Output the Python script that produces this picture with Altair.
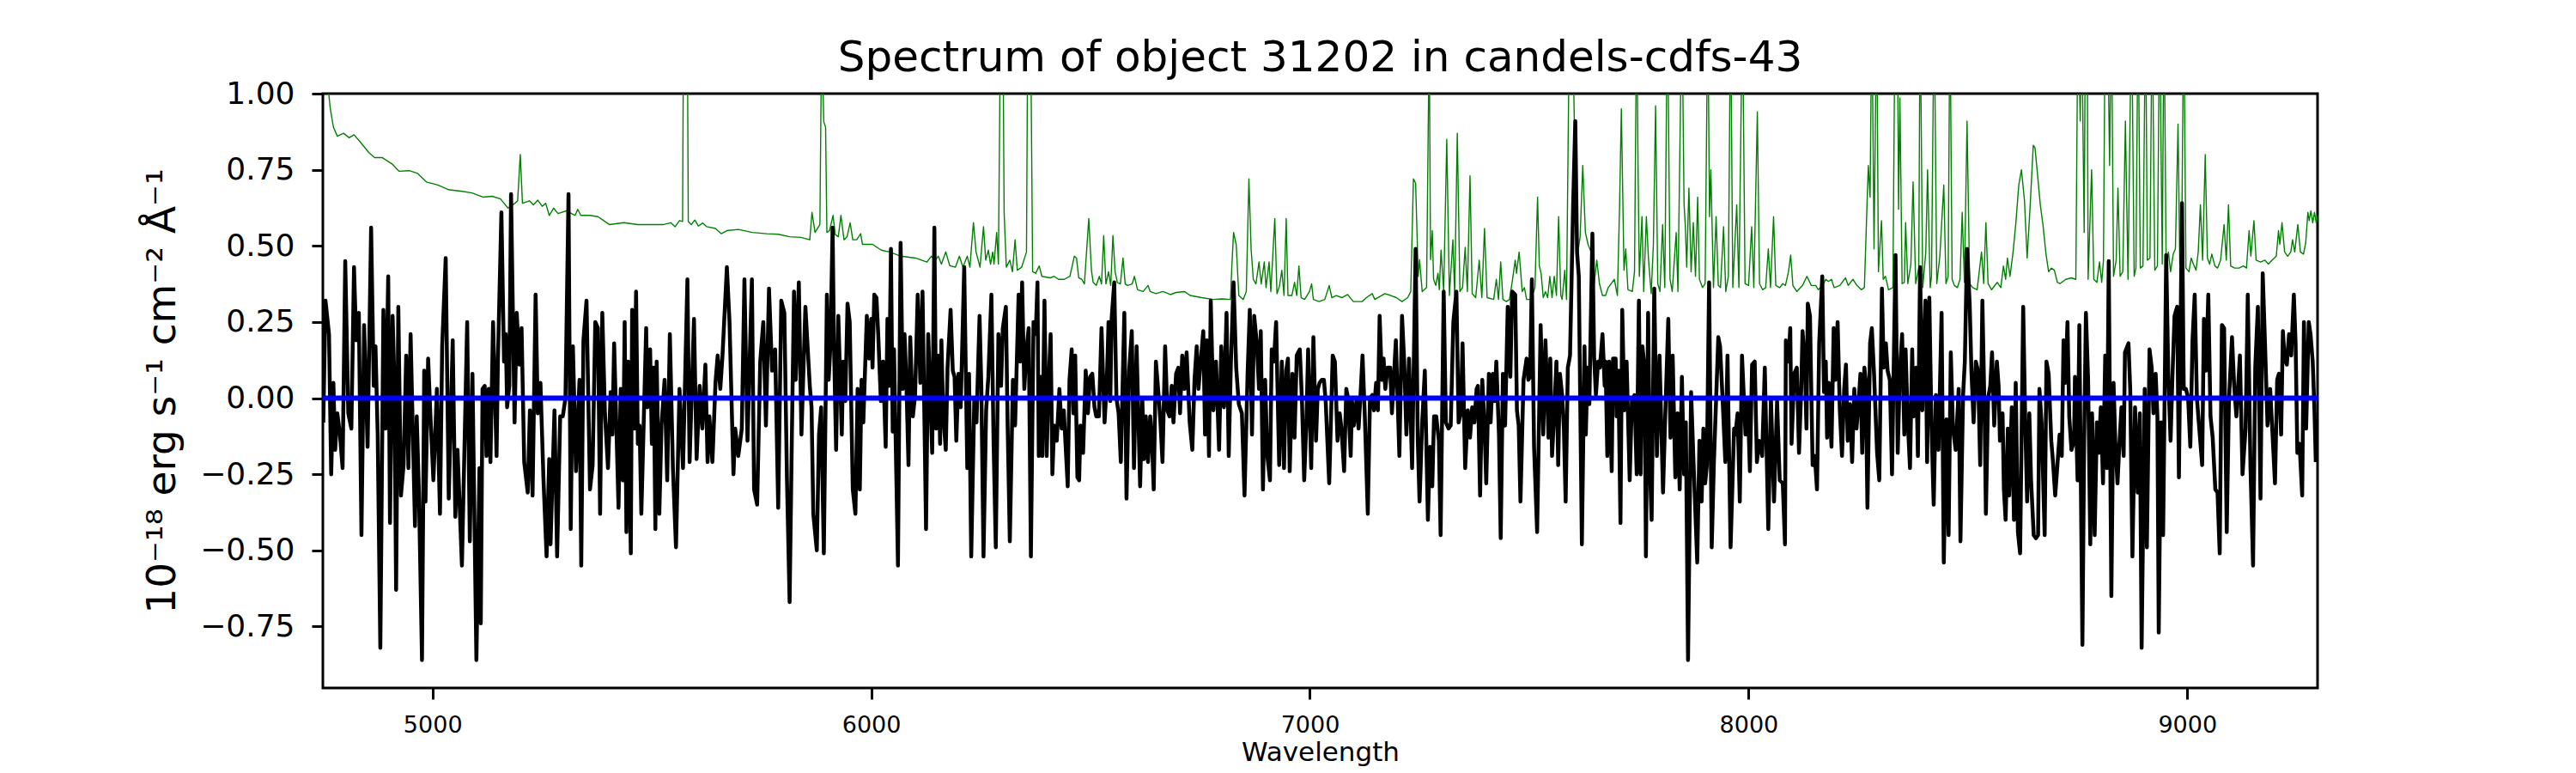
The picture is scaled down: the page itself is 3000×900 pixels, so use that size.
import altair as alt
import pandas as pd

# ---------------- data (wavelength [A], flux) ----------------
flux_seg0 = [(4751,-0.08),(4756,0.32),(4764,0.21),(4769,-0.25),(4774,0.05),(4778,-0.17),(4783,-0.05),(4789,-0.12),(4795,-0.23),(4801,0.45),(4808,-0.05),(4815,-0.10),(4821,0.43),(4826,0.19),(4832,0.28),(4838,-0.45),(4844,0.24),(4852,-0.16),(4860,0.56),(4866,0.04),(4870,0.17),(4875,-0.12),(4881,-0.82),(4888,0.29),(4893,-0.10),(4899,0.40),(4903,-0.41),(4909,0.27),(4913,0.06),(4917,-0.63),(4922,0.30),(4928,-0.32),(4934,-0.22),(4940,0.14),(4945,-0.23),(4950,0.21),(4960,-0.42),(4964,-0.06),(4969,-0.31),(4976,-0.86),(4981,0.09),(4984,-0.34),(4990,0.13),(4995,-0.05),(5002,-0.27),(5010,0.03),(5017,-0.38),(5022,0.17),(5030,0.46),(5037,-0.33),(5046,0.19),(5052,-0.39),(5057,-0.17),(5067,-0.55),(5079,0.25),(5085,-0.47),(5091,0.08),(5100,-0.86),(5107,-0.23),(5110,-0.74),(5114,0.03),(5119,0.04),(5123,-0.19),(5128,0.03),(5132,-0.21),(5138,0.25),(5146,-0.19),(5149,0.12),(5157,0.61),(5163,0.12),(5167,0.21),(5170,-0.03),(5175,0.04),(5179,0.67),(5187,-0.08),(5192,0.28),(5198,0.11),(5203,0.23),(5209,-0.21),(5217,-0.31),(5222,-0.04),(5228,-0.32),(5235,0.34),(5240,-0.05),(5246,0.05),(5253,-0.27),(5260,-0.52),(5266,-0.20),(5269,-0.48),(5278,-0.04),(5284,-0.52),(5291,-0.06),(5297,-0.06),(5303,0.00)]
flux_seg1 = [(5310,0.67),(5315,-0.43),(5320,0.17),(5327,-0.24),(5335,0.06),(5339,-0.55),(5344,0.19),(5351,0.32),(5359,-0.30),(5365,-0.22),(5371,0.25),(5377,0.23),(5382,-0.38),(5387,0.28),(5393,-0.05),(5400,-0.23),(5406,0.02),(5410,-0.12),(5414,0.18),(5424,-0.36),(5429,0.03),(5434,-0.27),(5438,0.25),(5442,-0.44),(5446,0.12),(5452,-0.51),(5455,0.29),(5460,-0.10),(5464,0.35),(5468,-0.15),(5472,-0.09),(5476,-0.38),(5487,0.23),(5490,-0.03),(5496,0.16),(5500,-0.15),(5504,0.10),(5508,-0.43),(5511,0.12),(5517,-0.38),(5522,-0.09),(5529,0.06),(5535,-0.27),(5541,0.21),(5548,-0.23),(5555,-0.49),(5563,0.03),(5571,-0.23),(5581,0.39),(5586,-0.21),(5596,0.26),(5602,-0.20),(5609,0.04),(5615,-0.10),(5622,0.11),(5627,-0.21),(5631,-0.06),(5638,-0.21),(5645,0.05),(5650,0.14),(5656,0.03),(5661,0.14),(5671,0.43),(5677,0.25),(5686,-0.25),(5690,-0.10),(5697,-0.19),(5705,-0.10),(5711,0.39),(5718,-0.14),(5728,0.39),(5733,-0.30),(5740,-0.35),(5747,0.12),(5754,0.25),(5760,-0.09),(5767,0.36),(5774,0.09),(5781,0.16),(5788,-0.36),(5795,0.32),(5802,0.28),(5808,-0.27),(5814,-0.67),(5819,-0.14),(5824,0.35),(5828,0.06),(5835,0.38),(5841,-0.12),(5850,0.30),(5860,0.04),(5864,-0.03),(5868,-0.38)]
flux_seg2 = [(5876,-0.50),(5881,-0.12),(5886,-0.03),(5892,-0.51),(5899,0.34),(5903,0.06),(5907,0.17),(5912,0.56),(5915,0.19),(5920,-0.17),(5925,0.27),(5933,-0.12),(5936,0.12),(5941,-0.01),(5946,0.31),(5951,0.25),(5958,-0.30),(5964,-0.38),(5969,0.03),(5974,-0.30),(5978,0.06),(5982,-0.08),(5990,0.27),(5995,0.13),(6000,0.26),(6003,0.10),(6007,0.34),(6012,0.33),(6016,0.21),(6022,-0.01),(6027,0.12),(6033,-0.16),(6037,0.26),(6041,0.04),(6045,0.49),(6049,-0.11),(6052,0.16),(6061,-0.55),(6067,0.51),(6072,0.03),(6076,0.21),(6080,0.06),(6085,-0.22),(6089,0.20),(6095,-0.06),(6100,0.01),(6106,0.34),(6112,0.05),(6117,0.35),(6121,-0.04),(6125,-0.43),(6130,0.21),(6139,-0.18),(6144,0.56),(6148,-0.10),(6153,0.14),(6157,-0.15),(6160,0.19),(6164,-0.05),(6170,-0.17),(6174,0.10),(6181,0.29),(6186,0.09),(6190,0.07),(6194,-0.14),(6199,0.08),(6204,-0.03),(6212,0.43),(6219,-0.23),(6223,0.08),(6228,-0.52),(6235,0.00),(6240,-0.08),(6247,0.27),(6251,0.04),(6256,-0.52),(6262,-0.04),(6267,0.07),(6274,0.34),(6279,-0.15),(6284,-0.49),(6290,0.21),(6296,0.04),(6300,0.23),(6307,0.30),(6311,-0.09),(6316,-0.47),(6323,0.06),(6328,-0.09),(6336,0.34),(6340,0.12),(6344,0.38),(6349,0.03),(6354,0.16),(6359,0.23),(6364,-0.52),(6370,0.25),(6375,0.21),(6379,0.38),(6382,-0.19),(6387,0.07),(6390,-0.19),(6395,0.32),(6400,-0.19),(6404,0.03),(6409,0.21),(6413,-0.25),(6417,-0.09),(6423,-0.14),(6429,0.03),(6434,-0.10),(6439,-0.04)]
flux_seg3 = [(6448,-0.29),(6452,0.06),(6457,0.16),(6461,-0.05),(6465,0.14),(6470,-0.26),(6474,-0.27),(6477,-0.09),(6483,-0.18),(6489,0.09),(6494,-0.05),(6499,0.07),(6504,0.08),(6509,-0.03),(6513,-0.06),(6519,-0.06),(6525,0.23),(6532,-0.08),(6537,0.05),(6541,0.25),(6545,-0.01),(6548,0.26),(6554,0.38),(6559,0.00),(6564,-0.05),(6569,-0.21),(6577,0.28),(6582,-0.33),(6588,0.09),(6594,0.22),(6599,-0.23),(6605,0.17),(6613,-0.29),(6618,0.00),(6622,-0.20),(6626,-0.06),(6631,-0.21),(6636,-0.06),(6640,-0.14),(6644,-0.30),(6649,0.12),(6654,0.03),(6659,-0.07),(6664,-0.21),(6670,0.17),(6675,-0.04),(6680,-0.06),(6685,0.04),(6689,-0.08),(6695,0.08),(6700,0.10),(6704,-0.05),(6709,0.14),(6714,0.03),(6719,0.15),(6726,-0.08),(6732,-0.17),(6737,0.06),(6742,0.17),(6746,0.03),(6751,0.12),(6757,0.22),(6761,-0.12),(6765,0.19),(6770,-0.19),(6774,0.32),(6780,-0.04),(6786,0.12),(6793,-0.17),(6798,0.17),(6804,-0.03),(6810,0.28),(6815,-0.19),(6820,0.12),(6826,0.38),(6832,0.10),(6838,-0.02),(6845,-0.05),(6851,-0.32),(6858,0.08),(6863,0.29),(6868,-0.12),(6873,0.27),(6879,0.18),(6884,0.03),(6888,0.22),(6893,-0.30),(6898,0.06),(6903,-0.19),(6909,-0.27),(6913,0.16),(6918,0.12),(6923,0.25),(6930,-0.22),(6936,0.12),(6941,-0.23),(6946,0.09),(6950,0.13),(6954,-0.24),(6960,0.08),(6965,-0.13),(6970,0.14),(6977,0.16),(6982,-0.01),(6987,-0.27),(6992,-0.08),(6996,0.16),(7003,-0.23),(7008,0.20)]
flux_seg4 = [(7014,-0.14),(7018,0.03),(7022,0.05),(7027,0.06),(7032,0.06),(7036,-0.01),(7044,-0.28),(7052,0.14),(7057,0.12),(7063,-0.14),(7068,-0.05),(7072,-0.10),(7078,-0.24),(7083,0.03),(7087,0.00),(7093,-0.19),(7096,-0.01),(7100,-0.09),(7106,-0.01),(7111,-0.10),(7115,0.00),(7120,0.14),(7125,-0.05),(7132,-0.38),(7137,0.00),(7142,0.01),(7146,-0.04),(7151,0.05),(7155,-0.04),(7159,0.27),(7164,0.06),(7168,0.13),(7172,0.03),(7177,0.10),(7183,0.10),(7187,-0.05),(7196,0.19),(7204,-0.19),(7210,0.27),(7215,0.12),(7220,-0.12),(7226,0.13),(7233,-0.23),(7241,0.49),(7246,-0.14),(7250,-0.34),(7256,-0.08),(7262,0.09),(7269,-0.40),(7274,-0.16),(7279,-0.29),(7283,-0.06),(7288,-0.06),(7294,-0.14),(7298,-0.45),(7305,0.35),(7310,-0.08),(7316,-0.10),(7321,-0.09),(7327,0.25),(7334,0.35),(7339,-0.08),(7344,-0.05),(7348,0.18),(7354,-0.23),(7360,-0.04),(7365,-0.13),(7370,-0.03),(7375,-0.08),(7380,0.03),(7383,0.04),(7388,-0.32),(7393,0.06),(7398,-0.09),(7402,-0.28),(7408,0.08),(7412,-0.08),(7417,0.08),(7421,-0.01),(7425,0.12),(7431,-0.12),(7435,-0.46),(7440,0.08),(7445,-0.09),(7451,0.30),(7457,0.07),(7461,0.35),(7468,0.34),(7472,-0.04),(7476,-0.09),(7480,-0.34),(7487,0.06),(7494,0.13),(7498,0.06),(7502,0.07),(7506,0.39),(7511,-0.16),(7518,-0.44),(7526,0.24),(7532,-0.12),(7537,0.19),(7544,-0.13),(7548,0.13),(7552,-0.19),(7557,-0.05),(7562,0.12),(7566,-0.22),(7570,0.08),(7575,0.01)]
flux_seg5 = [(7579,-0.10),(7583,-0.34),(7588,0.10),(7593,0.14),(7600,0.63),(7605,0.91),(7609,0.48),(7613,0.40),(7620,-0.48),(7626,0.17),(7629,-0.12),(7633,0.10),(7637,-0.02),(7644,0.54),(7648,0.13),(7652,0.01),(7657,0.12),(7661,0.10),(7667,0.21),(7672,0.04),(7674,0.12),(7678,-0.19),(7682,0.12),(7688,-0.24),(7691,0.13),(7697,0.13),(7699,-0.06),(7703,0.09),(7708,-0.41),(7712,0.29),(7717,-0.04),(7722,0.12),(7729,-0.27),(7734,-0.01),(7740,0.01),(7745,-0.25),(7750,0.32),(7754,-0.25),(7758,0.17),(7763,0.10),(7766,-0.52),(7771,0.28),(7775,-0.22),(7779,-0.40),(7785,0.36),(7791,-0.19),(7797,0.14),(7805,-0.31),(7810,-0.06),(7817,0.26),(7822,-0.13),(7827,0.14),(7833,-0.26),(7838,-0.05),(7843,-0.30),(7848,0.07),(7853,-0.25),(7857,-0.08),(7862,-0.86),(7869,0.02),(7875,-0.23),(7883,-0.54),(7888,-0.14),(7893,-0.34),(7897,-0.10),(7901,-0.28),(7905,-0.22),(7910,0.38),(7916,-0.49),(7921,-0.21),(7931,0.20),(7935,0.17),(7941,-0.01),(7947,-0.21),(7952,0.14),(7959,-0.49),(7967,-0.10),(7970,-0.12),(7975,-0.05),(7980,-0.34),(7985,0.14),(7993,-0.12),(7998,0.00),(8003,-0.24),(8008,0.11),(8014,0.12),(8019,-0.21),(8024,-0.14),(8031,-0.19),(8037,0.10),(8045,-0.43),(8051,0.00),(8058,-0.34),(8065,-0.01),(8071,-0.27),(8078,-0.28),(8083,-0.48),(8085,0.19),(8091,0.12),(8095,0.23),(8098,-0.15),(8104,0.08),(8110,0.10),(8115,-0.18),(8120,0.03),(8123,0.22),(8128,0.13),(8132,-0.10),(8135,0.31),(8140,0.27)]
flux_seg6 = [(8146,-0.22),(8151,-0.19),(8156,-0.30),(8161,0.18),(8168,0.40),(8172,0.02),(8176,0.12),(8179,-0.13),(8183,0.05),(8189,-0.16),(8194,0.23),(8198,0.06),(8203,0.25),(8208,-0.04),(8213,-0.19),(8218,0.03),(8222,0.11),(8226,-0.14),(8231,-0.02),(8236,-0.21),(8241,0.03),(8246,-0.10),(8251,-0.01),(8255,0.08),(8259,-0.18),(8264,0.10),(8267,0.06),(8271,-0.36),(8277,0.18),(8281,0.23),(8286,0.08),(8293,-0.18),(8298,-0.27),(8304,0.36),(8308,0.10),(8313,0.18),(8317,0.09),(8322,0.06),(8327,-0.25),(8331,0.12),(8335,0.47),(8340,-0.18),(8345,0.09),(8350,0.21),(8355,-0.12),(8358,0.16),(8363,-0.08),(8368,-0.23),(8373,0.16),(8376,-0.06),(8382,0.10),(8386,-0.19),(8391,0.43),(8396,-0.04),(8403,0.32),(8407,-0.21),(8412,0.33),(8417,-0.09),(8422,-0.35),(8427,0.01),(8433,-0.17),(8440,0.28),(8445,-0.54),(8451,-0.07),(8456,-0.45),(8461,0.15),(8466,-0.10),(8472,-0.17),(8479,0.03),(8483,-0.47),(8489,0.01),(8493,0.12),(8498,0.49),(8504,0.31),(8508,0.09),(8513,-0.08),(8518,0.12),(8523,0.09),(8528,-0.22),(8533,0.32),(8538,-0.05),(8541,-0.38),(8546,0.00),(8551,0.04),(8555,0.15),(8560,-0.09),(8566,0.12),(8570,0.04),(8573,-0.14),(8579,-0.05),(8582,-0.30),(8586,-0.40),(8591,-0.10),(8594,-0.32),(8600,-0.03),(8605,-0.40),(8609,0.05),(8614,-0.44),(8619,-0.51),(8626,0.30),(8631,-0.10),(8635,-0.34),(8640,-0.05),(8644,-0.27),(8650,-0.45),(8655,-0.46),(8660,-0.45),(8663,0.03),(8668,-0.08),(8675,-0.45),(8679,0.12),(8684,0.08),(8690,-0.14),(8694,-0.21),(8699,-0.32),(8704,-0.22),(8709,-0.12)]
flux_seg7 = [(8714,-0.19),(8718,0.19),(8722,0.05),(8727,0.25),(8731,-0.06),(8736,-0.17),(8742,-0.14),(8744,0.07),(8750,-0.27),(8754,0.24),(8761,-0.81),(8765,-0.14),(8769,0.28),(8774,0.06),(8779,-0.48),(8783,-0.05),(8789,-0.45),(8794,-0.08),(8798,-0.18),(8803,-0.03),(8808,-0.28),(8813,0.14),(8817,-0.23),(8821,0.45),(8827,-0.65),(8832,0.05),(8836,-0.14),(8841,-0.28),(8845,-0.16),(8850,-0.03),(8855,-0.19),(8858,0.15),(8866,0.18),(8870,0.03),(8875,-0.52),(8881,-0.03),(8887,-0.31),(8892,-0.05),(8896,-0.82),(8903,0.03),(8908,-0.49),(8914,0.16),(8919,0.10),(8923,-0.05),(8928,0.08),(8932,-0.06),(8935,-0.77),(8940,-0.08),(8945,-0.45),(8952,0.47),(8957,0.06),(8962,-0.14),(8966,0.06),(8971,0.27),(8977,0.30),(8981,-0.26),(8988,0.64),(8992,0.03),(8997,0.03),(9002,0.00),(9007,-0.16),(9012,0.19),(9017,0.34),(9022,0.00),(9028,-0.11),(9034,-0.22),(9038,0.26),(9043,0.09),(9048,0.34),(9053,-0.06),(9058,-0.13),(9064,-0.30),(9069,-0.31),(9074,-0.51),(9079,0.24),(9084,0.23),(9090,-0.44),(9095,-0.01),(9102,0.20),(9107,0.04),(9112,-0.06),(9116,0.04),(9120,0.14),(9126,-0.25),(9133,-0.10),(9138,0.34),(9144,-0.22),(9150,-0.55),(9155,0.10),(9161,0.30),(9167,-0.33),(9172,0.41),(9177,0.19),(9183,-0.09),(9189,0.03),(9193,-0.08),(9200,-0.28),(9205,0.06),(9209,0.08),(9214,-0.12),(9218,0.22),(9222,0.13),(9227,0.11),(9232,0.21),(9237,0.14),(9243,0.34),(9247,0.18),(9251,-0.18),(9256,-0.15),(9262,-0.32),(9266,0.25),(9271,-0.10),(9277,0.25),(9281,0.21),(9286,0.12),(9290,-0.04),(9293,-0.21)]

# green (noise / sky) spectrum; values above 1 are clipped at the top of the axes
noise_seg0 = [(4751,1.3),(4762,1.02),(4767,0.95),(4774,0.89),(4783,0.86),(4797,0.87),(4810,0.855),(4821,0.865),(4836,0.84),(4855,0.806),(4868,0.79),(4885,0.79),(4907,0.77),(4924,0.745),(4947,0.747),(4966,0.738),(4986,0.71),(5012,0.70),(5038,0.684),(5064,0.68),(5090,0.674),(5116,0.66),(5136,0.663),(5155,0.654),(5172,0.624),(5188,0.64),(5194,0.648),(5200,0.80),(5205,0.64),(5221,0.648),(5230,0.635),(5240,0.65),(5250,0.63),(5258,0.64),(5266,0.60),(5276,0.624),(5286,0.606),(5305,0.615)]
noise_seg1 = [(5325,0.60),(5331,0.62),(5338,0.60),(5358,0.60),(5377,0.596),(5403,0.57),(5436,0.576),(5468,0.57),(5501,0.57),(5527,0.57),(5543,0.576),(5553,0.563),(5563,0.583),(5570,0.58),(5573,1.5),(5580,1.5),(5583,0.58),(5590,0.57),(5598,0.585),(5606,0.565),(5616,0.575),(5625,0.563),(5645,0.557),(5658,0.54),(5671,0.55),(5697,0.554),(5729,0.544),(5762,0.54),(5788,0.538),(5814,0.53),(5840,0.528),(5860,0.52),(5865,0.61),(5872,0.544)]
noise_seg2 = [(5883,0.57),(5887,1.2),(5892,0.907),(5896,0.89),(5899,0.544),(5905,0.55),(5913,0.60),(5918,0.537),(5925,0.53),(5931,0.60),(5938,0.52),(5945,0.53),(5952,0.576),(5958,0.52),(5967,0.52),(5976,0.54),(5980,0.505),(6003,0.505),(6023,0.486),(6042,0.48),(6068,0.466),(6101,0.46),(6127,0.447),(6137,0.466),(6146,0.453),(6153,0.466),(6160,0.44),(6170,0.48),(6179,0.435),(6192,0.43),(6201,0.466),(6209,0.43),(6219,0.466),(6225,0.43),(6233,0.576),(6239,0.48),(6248,0.43),(6256,0.563),(6261,0.453),(6267,0.486),(6272,0.44),(6277,0.48),(6280,0.44),(6286,0.544),(6290,0.44),(6295,1.3),(6300,1.3),(6303,0.61),(6308,0.43),(6316,0.453),(6322,0.415),(6328,0.52),(6333,0.42),(6343,0.43),(6354,0.48),(6357,1.3),(6363,1.3),(6368,0.415),(6375,0.41),(6383,0.434),(6389,0.40),(6408,0.395),(6417,0.40),(6427,0.39)]
noise_seg3 = [(6440,0.39),(6453,0.40),(6463,0.466),(6468,0.46),(6473,0.395),(6480,0.39),(6486,0.375),(6496,0.59),(6502,0.42),(6506,0.38),(6513,0.37),(6520,0.40),(6525,0.375),(6530,0.534),(6535,0.375),(6541,0.415),(6546,0.37),(6551,0.534),(6556,0.415),(6561,0.38),(6568,0.375),(6574,0.46),(6579,0.375),(6584,0.37),(6595,0.375),(6600,0.40),(6607,0.356),(6620,0.35),(6631,0.37),(6636,0.35),(6649,0.343),(6665,0.35),(6682,0.34),(6695,0.347),(6714,0.35),(6727,0.337),(6753,0.33),(6780,0.324),(6799,0.326),(6819,0.324),(6822,0.43),(6826,0.544),(6832,0.505),(6838,0.337),(6848,0.324),(6855,0.35),(6861,0.72),(6866,0.49),(6871,0.39),(6877,0.375),(6884,0.447),(6889,0.375),(6896,0.447),(6900,0.363),(6907,0.447),(6911,0.35),(6920,0.59),(6925,0.343),(6931,0.37),(6936,0.42),(6941,0.337),(6946,0.59),(6950,0.337),(6959,0.337),(6965,0.38),(6970,0.337),(6975,0.434),(6980,0.33),(6988,0.324),(6999,0.35),(7004,0.375)]
noise_seg4 = [(7008,0.324),(7021,0.317),(7034,0.324),(7044,0.37),(7050,0.33),(7060,0.337),(7073,0.33),(7086,0.34),(7099,0.317),(7119,0.317),(7129,0.33),(7142,0.343),(7148,0.324),(7171,0.343),(7184,0.337),(7197,0.33),(7210,0.317),(7223,0.33),(7230,0.35),(7236,0.72),(7241,0.706),(7247,0.40),(7250,0.455),(7256,0.35),(7266,0.363),(7272,1.2),(7275,0.455),(7279,0.55),(7282,0.39),(7287,0.37),(7292,0.41),(7295,0.356),(7299,0.486),(7305,0.35),(7312,0.85),(7318,0.337),(7326,0.52),(7330,0.337),(7336,0.87),(7342,0.35),(7348,0.363),(7354,0.495),(7359,0.35),(7365,0.73),(7370,0.343),(7378,0.33),(7386,0.453),(7392,0.33),(7398,0.557),(7404,0.33),(7419,0.324),(7425,0.39),(7430,0.324),(7435,0.447),(7440,0.324),(7448,0.317),(7455,0.324),(7461,0.38),(7468,0.453),(7471,0.41),(7477,0.48),(7484,0.35),(7489,0.363),(7494,0.324),(7504,0.324),(7513,0.363),(7519,0.66),(7523,0.434),(7527,0.41),(7532,0.33),(7537,0.35),(7542,0.33),(7547,0.40),(7552,0.33),(7557,0.40),(7562,0.337),(7567,0.596),(7572,0.337)]
noise_seg5 = [(7575,0.324),(7581,0.42),(7585,0.324),(7592,1.3),(7598,1.3),(7603,0.89),(7611,0.48),(7616,0.53),(7622,0.764),(7628,0.544),(7634,0.505),(7641,0.48),(7648,0.376),(7654,0.453),(7660,0.376),(7667,0.337),(7674,0.337),(7680,0.363),(7687,0.376),(7694,0.39),(7701,0.337),(7706,0.635),(7710,0.95),(7716,0.42),(7720,0.49),(7725,0.356),(7735,0.35),(7740,0.415),(7745,1.3),(7748,0.764),(7751,0.40),(7757,0.596),(7761,0.35),(7767,0.596),(7772,0.453),(7778,0.343),(7783,0.505),(7788,0.96),(7793,0.376),(7798,0.35),(7804,0.57),(7809,0.363),(7815,1.3),(7821,0.39),(7826,0.35),(7835,0.544),(7839,0.35),(7848,1.3),(7853,0.635),(7856,0.56),(7859,0.43),(7864,0.69),(7869,0.415),(7874,0.576),(7879,0.40),(7884,0.66),(7888,0.39),(7895,0.363),(7901,0.376),(7907,1.3),(7911,0.596),(7914,0.75),(7920,0.363),(7926,0.596),(7931,0.37),(7936,0.363),(7943,0.563),(7948,0.35),(7954,0.40),(7959,1.3),(7964,0.363),(7973,0.635),(7978,0.363),(7986,1.3),(7992,0.376),(8000,0.37),(8007,0.563),(8012,0.363),(8020,0.94),(8025,0.376),(8032,0.356),(8039,0.363),(8045,0.49),(8050,0.363),(8057,0.596),(8062,0.37),(8071,0.363),(8078,0.376),(8084,0.37),(8091,0.415),(8096,0.47),(8101,0.37),(8110,0.35),(8123,0.37),(8133,0.40)]
noise_seg6 = [(8143,0.37),(8153,0.37),(8159,0.356),(8169,0.37),(8176,0.39),(8182,0.383),(8189,0.39),(8195,0.363),(8208,0.37),(8221,0.395),(8227,0.37),(8238,0.39),(8247,0.37),(8257,0.356),(8264,0.363),(8270,0.635),(8273,0.764),(8277,0.66),(8281,1.3),(8286,0.49),(8292,1.3),(8296,0.415),(8303,0.583),(8307,0.39),(8312,0.40),(8319,0.356),(8329,0.363),(8334,1.3),(8339,1.3),(8342,0.62),(8345,0.985),(8350,0.376),(8355,0.38),(8358,0.576),(8363,0.376),(8370,0.44),(8375,0.71),(8381,0.376),(8388,0.427),(8391,1.3),(8397,0.363),(8404,0.48),(8408,0.75),(8414,0.363),(8417,0.40),(8423,1.3),(8429,0.376),(8436,0.466),(8445,0.70),(8450,0.376),(8455,0.40),(8459,1.3),(8464,0.39),(8469,0.37),(8476,0.363),(8482,0.39),(8487,0.61),(8492,0.38),(8498,0.91),(8504,0.376),(8511,0.363),(8521,0.356),(8531,0.48),(8536,0.376),(8541,0.576),(8546,0.376),(8554,0.356),(8567,0.38),(8575,0.363),(8581,0.434),(8586,0.39),(8590,0.46),(8596,0.40),(8603,0.48),(8609,0.57),(8616,0.70),(8622,0.75),(8629,0.648),(8635,0.46),(8642,0.635),(8649,0.83),(8653,0.822),(8658,0.745),(8665,0.635),(8671,0.57),(8678,0.473),(8684,0.415),(8690,0.427),(8697,0.42),(8704,0.38)]
noise_seg7 = [(8710,0.376),(8723,0.39),(8736,0.395),(8746,0.39),(8751,1.3),(8756,0.91),(8759,1.3),(8765,0.544),(8768,1.3),(8772,1.3),(8774,0.39),(8782,0.75),(8787,0.39),(8794,0.38),(8800,0.447),(8805,0.38),(8809,0.453),(8813,1.3),(8818,1.3),(8823,0.764),(8827,1.3),(8832,0.40),(8838,0.453),(8842,0.69),(8847,0.40),(8853,0.415),(8859,0.91),(8865,0.39),(8873,1.3),(8879,0.40),(8883,0.427),(8888,1.3),(8893,0.427),(8899,0.434),(8905,1.3),(8909,0.453),(8915,0.46),(8920,1.3),(8926,0.42),(8932,0.434),(8937,1.3),(8943,0.44),(8947,1.3),(8952,0.427),(8957,0.48),(8962,0.415),(8968,0.473),(8973,0.49),(8979,0.90),(8983,0.44),(8988,0.62),(8992,1.3),(8997,0.427),(9004,0.415),(9009,0.46),(9014,0.44),(9020,0.42),(9025,0.48),(9030,0.635),(9035,0.453),(9041,0.80),(9046,0.46),(9051,0.44),(9056,0.473),(9063,0.434),(9069,0.427),(9076,0.453),(9084,0.57),(9089,0.453),(9094,0.635),(9099,0.434),(9108,0.427),(9118,0.427),(9128,0.434),(9135,0.427),(9141,0.55),(9145,0.466),(9152,0.583),(9157,0.453),(9167,0.447),(9177,0.453),(9185,0.44),(9193,0.453),(9203,0.466),(9208,0.55),(9211,0.505),(9216,0.576),(9222,0.48),(9229,0.466),(9236,0.48),(9240,0.52),(9245,0.48),(9252,0.57),(9258,0.48),(9265,0.473),(9270,0.51),(9275,0.61),(9278,0.583),(9282,0.615),(9286,0.576),(9290,0.61),(9294,0.576),(9298,0.60)]

zero_level = [0.0]

x_ticks = [5000, 6000, 7000, 8000, 9000]
y_ticks = [-0.75, -0.5, -0.25, 0.0, 0.25, 0.5, 0.75, 1.0]
x_domain = [4750, 9297]
y_domain = [-0.952, 1.0]

title_text = ["Spectrum of object 31202 in candels-cdfs-43"]
x_title = "Wavelength"
y_title = "10\u207b\u00b9\u2078 erg s\u207b\u00b9 cm\u207b\u00b2 \u00c5\u207b\u00b9"


def to_frame(*segments):
    rows = [p for seg in segments for p in seg]
    return pd.DataFrame(rows, columns=["wavelength", "value"])


flux_df = to_frame(flux_seg0, flux_seg1, flux_seg2, flux_seg3,
                   flux_seg4, flux_seg5, flux_seg6, flux_seg7)
noise_df = to_frame(noise_seg0, noise_seg1, noise_seg2, noise_seg3,
                    noise_seg4, noise_seg5, noise_seg6, noise_seg7)
zero_df = pd.DataFrame({"value": zero_level})
title_df = pd.DataFrame({"label": title_text})

FONT = "DejaVu Sans"
PLOT_W, PLOT_H = 2323, 692

x_enc = alt.X(
    "wavelength:Q",
    scale=alt.Scale(domain=x_domain, nice=False, zero=False),
    axis=alt.Axis(
        values=x_ticks, format="d", labelFontSize=27, labelPadding=38,
        labelBaseline="alphabetic", labelFont=FONT, labelColor="black",
        title=x_title, titleFontSize=31, titleFont=FONT,
        titleFontWeight="normal", titleColor="black",
        titleBaseline="alphabetic", titleY=84, titleAlign="center",
        grid=False, domain=False, tickColor="black", tickWidth=3, tickSize=13,
    ),
)
y_enc = alt.Y(
    "value:Q",
    scale=alt.Scale(domain=y_domain, nice=False, zero=False),
    axis=alt.Axis(
        values=y_ticks, format=".2f", labelFontSize=36, labelPadding=20,
        labelFont=FONT, labelColor="black",
        title=y_title, titleFontSize=47, titleFont=FONT,
        titleFontWeight="normal", titleColor="black",
        titleAngle=270, titleAlign="center",
        titleBaseline="alphabetic", titleX=-173, titleY=346,
        grid=False, domain=False, tickColor="black", tickWidth=3, tickSize=13,
    ),
)

noise_line = alt.Chart(noise_df).mark_line(
    color="#008000", strokeWidth=1.4, clip=True, strokeJoin="round"
).encode(x=x_enc, y=y_enc)

flux_line = alt.Chart(flux_df).mark_line(
    color="black", strokeWidth=4.5, clip=True, strokeJoin="round"
).encode(x=x_enc, y=y_enc)

zero_line = alt.Chart(zero_df).mark_rule(
    color="#0000ff", strokeWidth=6
).encode(y=y_enc)

title_mark = alt.Chart(title_df).mark_text(
    font=FONT, fontSize=50, color="black", align="center",
    baseline="alphabetic", clip=False,
).encode(
    text="label:N",
    x=alt.value(PLOT_W / 2),
    y=alt.value(-26),
)

chart = alt.layer(noise_line, flux_line, zero_line, title_mark).properties(
    width=PLOT_W,
    height=PLOT_H,
    padding={"left": 368, "top": 101, "right": 292, "bottom": 91},
    autosize=alt.AutoSizeParams(type="none"),
    background="white",
).configure_view(
    stroke="black", strokeWidth=3
).configure_axis(
    domain=False, grid=False, ticks=True, tickColor="black", tickWidth=3,
    tickSize=13, labelColor="black", titleColor="black", labelFont=FONT,
    titleFont=FONT, titleFontWeight="normal",
)

chart.save("out.html", embed_options={"renderer": "svg", "actions": False})
